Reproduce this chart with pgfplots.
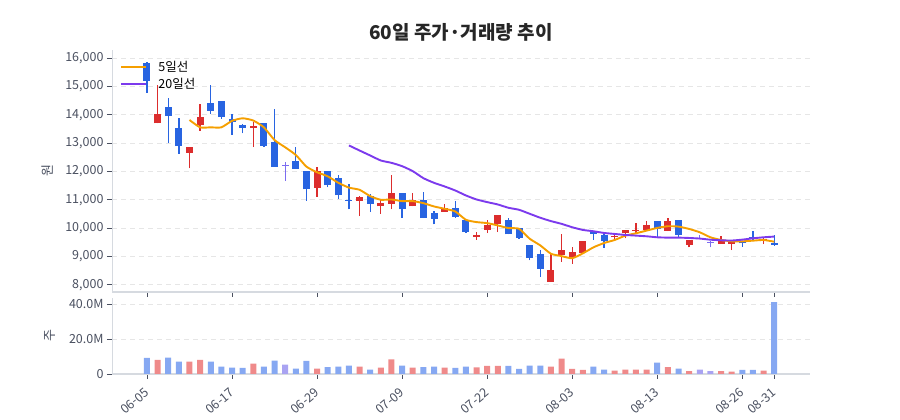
\documentclass[border=0pt]{standalone}
\usepackage{pgfplots}
\pgfplotsset{compat=1.18}
\usepackage{pgfplotstable}
\usepackage{fontspec}
\setmainfont{Noto Sans CJK KR}

\definecolor{upred}{HTML}{DC2D2D}
\definecolor{downblue}{HTML}{2864E1}
\definecolor{flatpur}{HTML}{7B6CF0}
\definecolor{vred}{HTML}{EF8A8A}
\definecolor{vblue}{HTML}{86A8F2}
\definecolor{vpur}{HTML}{A9A3F2}
\definecolor{maorange}{HTML}{F59F00}
\definecolor{mapurple}{HTML}{7C3AED}
\definecolor{txt}{HTML}{4A5060}
\definecolor{gridc}{HTML}{E6E6E6}
\definecolor{spine}{HTML}{D6DAE0}

% candles: index, open, high, low, close
\pgfplotstableread{
i o h l c
1 13700 15060 13700 14030
4 12670 12870 12110 12870
5 13640 14390 13440 13910
10 13550 13760 12860 13600
16 11410 12170 11110 12030
20 10950 11150 10420 11090
22 10770 11000 10510 10890
23 10860 11890 10660 11250
25 10770 11250 10770 11010
28 10570 10860 10570 10710
31 9680 9860 9590 9740
32 9950 10270 9820 10120
33 10130 10480 9860 10480
38 8090 9090 8090 8530
39 9065 9785 8805 9230
40 8960 9325 8735 9160
41 9105 9535 9085 9535
44 9675 9820 9555 9735
45 9815 9935 9640 9935
46 9890 10170 9830 9935
47 9935 10265 9935 10125
49 9910 10360 9890 10265
51 9413 9578 9319 9578
54 9435 9730 9435 9530
55 9435 9494 9224 9494
58 9530 9694 9435 9612
}\uptab

\pgfplotstableread{
i o h l c
0 15850 15880 14790 15210
2 14270 14610 13020 13960
3 13530 13880 12620 12900
6 14430 15060 14030 14140
7 14480 14480 13870 13920
8 13860 14030 13290 13760
9 13640 13680 13350 13530
11 13700 13700 12880 12900
12 13030 14200 12170 12170
14 12370 12860 12090 12090
15 12020 12020 10970 11370
17 12030 12030 11440 11520
18 11780 11870 11020 11160
19 11010 11560 10660 10970
21 11130 11210 10560 10860
24 11250 11250 10360 10660
26 11010 11270 10350 10350
27 10540 10620 10130 10330
29 10720 10940 10370 10390
30 10270 10270 9830 9860
34 10290 10350 9780 9780
35 10000 10000 9620 9650
36 9390 9390 8860 8950
37 9070 9210 8270 8560
42 9850 9910 9580 9790
43 9770 9820 9300 9530
48 10265 10265 9675 9970
50 10290 10290 9650 9770
56 9518 9540 9341 9459
57 9694 9882 9530 9612
59 9459 9765 9376 9400
}\downtab

\pgfplotstableread{
i o h l c
13 12240 12350 11680 12200
52 9640 9765 9600 9610
53 9520 9550 9320 9490
}\flattab

\pgfplotstableread{
i v
4 13820
5 13560
6 13560
7 13560
8 13790
9 13880
10 13800
11 13560
12 13110
13 12855
14 12584
15 12172
16 11972
17 11830
18 11600
19 11430
20 11353
21 11129
22 11000
23 11012
24 10953
25 10953
26 10882
27 10765
28 10682
29 10588
30 10294
31 10212
32 10176
33 10094
34 10000
35 9976
36 9624
37 9388
38 9094
39 9010
40 8935
41 9107
42 9320
43 9473
44 9580
45 9734
46 9817
47 9911
48 10006
49 10065
50 10053
51 9970
52 9852
53 9675
54 9580
55 9533
56 9533
57 9556
58 9580
59 9520
}\mafive

\pgfplotstableread{
i v
19 12920
20 12741
21 12565
22 12388
23 12306
24 12188
25 12012
26 11765
27 11600
28 11471
29 11329
30 11153
31 11012
32 10918
33 10835
34 10718
35 10647
36 10506
37 10365
38 10247
39 10150
40 10030
41 9935
42 9888
43 9828
44 9793
45 9757
46 9734
47 9710
48 9675
49 9663
50 9663
51 9651
52 9630
53 9590
54 9570
55 9560
56 9592
57 9639
58 9675
59 9700
}\matwenty

% volume in millions
\pgfplotstableread{
i v
1 8.1
4 7.1
5 8.1
10 6.0
16 3.1
20 4.2
22 3.7
23 8.3
25 3.7
28 3.7
31 3.8
32 4.6
33 4.6
38 4.2
39 8.8
40 2.9
41 2.3
44 1.9
45 2.5
46 2.5
47 2.5
49 4.0
51 1.7
54 1.7
55 1.3
58 1.9
}\volup

\pgfplotstableread{
i v
0 9.2
2 9.4
3 7.1
6 7.1
7 4.2
8 3.7
9 3.5
11 4.2
12 7.7
14 3.1
15 7.5
17 4.0
18 4.2
19 4.8
21 2.5
24 4.8
26 4.0
27 4.2
29 3.5
30 4.2
34 4.6
35 2.9
36 4.8
37 4.8
42 4.2
43 2.5
48 6.5
50 3.1
56 2.3
57 2.3
59 41.2
}\voldown

\pgfplotstableread{
i v
13 5.4
52 2.5
53 1.7
}\volflat

\pgfplotsset{
  base/.style={
    scale only axis, width=698pt,
    xmin=-3.29, xmax=62.37,
    axis x line*=bottom, axis y line*=left,
    x axis line style={spine, line width=1.6pt},
    y axis line style={spine, line width=0.9pt},
    tick align=outside, major tick length=5pt,
    tick style={txt, line width=0.9pt},
    xtick={0,8,16,24,32,40,48,56,59},
    ymajorgrids,
    grid style={gridc, dash pattern=on 5pt off 4pt, line width=0.8pt},
    ticklabel style={font=\fontsize{12.5}{14}\selectfont, text=txt},
    label style={font=\fontsize{13}{15}\selectfont, text=txt},
    scaled y ticks=false,
    /pgf/number format/assume math mode=true,
    /pgf/number format/1000 sep={,},
    clip=true,
  },
  wick/.style={draw=none, mark=none, forget plot,
    error bars/.cd, y dir=plus, y explicit, error mark=none,
    error bar style={draw=#1, line width=1.3pt}},
  body/.style={draw=none, mark=none, forget plot,
    error bars/.cd, y dir=plus, y explicit, error mark=none,
    error bar style={draw=#1, line width=7pt}},
  vbar/.style={ybar, bar width=6pt, bar shift=0pt, fill=#1, draw=none, forget plot},
}

\begin{document}
\begin{tikzpicture}
\path[use as bounding box] (0,0) rectangle (900pt,420pt);

\node[font=\bfseries\fontsize{19}{21}\selectfont, text=black!85] at (461pt,388pt) {60일 주가·거래량 추이};

\begin{axis}[base,
  at={(112pt,128pt)}, anchor=south west, height=242pt,
  ymin=7742, ymax=16293,
  ytick={8000,9000,...,16000},
  xticklabels={},
  ylabel={원},
  ylabel style={at={(axis description cs:0,0.5)}, anchor=center, yshift=64pt},
  legend style={at={(axis description cs:0,1)}, anchor=north west,
    xshift=5pt, yshift=-7pt, draw=none, fill=none,
    font=\fontsize{12.5}{14}\selectfont, row sep=1pt,
    /tikz/every odd column/.append style={column sep=9pt}},
  legend cell align=left,
  legend image code/.code={\draw[#1, line width=2.2pt] (0pt,0pt) -- (25pt,0pt);},
]
\addplot[wick=upred] table[x=i, y=l, y error plus expr=\thisrow{h}-\thisrow{l}] {\uptab};
\addplot[wick=downblue] table[x=i, y=l, y error plus expr=\thisrow{h}-\thisrow{l}] {\downtab};
\addplot[wick=flatpur] table[x=i, y=l, y error plus expr=\thisrow{h}-\thisrow{l}] {\flattab};
\addplot[body=upred] table[x=i, y=o, y error plus expr=\thisrow{c}-\thisrow{o}] {\uptab};
\addplot[body=downblue] table[x=i, y=c, y error plus expr=\thisrow{o}-\thisrow{c}] {\downtab};
\addplot[body=flatpur] table[x=i, y=c, y error plus expr=\thisrow{o}-\thisrow{c}] {\flattab};

\addplot[maorange, line width=1.9pt, smooth, tension=0.35, mark=none] table[x=i, y=v] {\mafive};
\addlegendentry{5일선}
\addplot[mapurple, line width=1.9pt, smooth, tension=0.35, mark=none] table[x=i, y=v] {\matwenty};
\addlegendentry{20일선}
\end{axis}

\begin{axis}[base,
  at={(112pt,46pt)}, anchor=south west, height=76pt,
  ymin=0, ymax=43.5,
  ytick={0,20,40}, yticklabels={0,20.0M,40.0M},
  xticklabels={06-05,06-17,06-29,07-09,07-22,08-03,08-13,08-26,08-31},
  xticklabel style={rotate=40, anchor=north east, xshift=-4pt, yshift=-1pt},
  ylabel={주},
  ylabel style={at={(axis description cs:0,0.5)}, anchor=center, yshift=62pt},
]
\addplot[vbar=vred] table[x=i, y=v] {\volup};
\addplot[vbar=vblue] table[x=i, y=v] {\voldown};
\addplot[vbar=vpur] table[x=i, y=v] {\volflat};
\end{axis}
\end{tikzpicture}
\end{document}
